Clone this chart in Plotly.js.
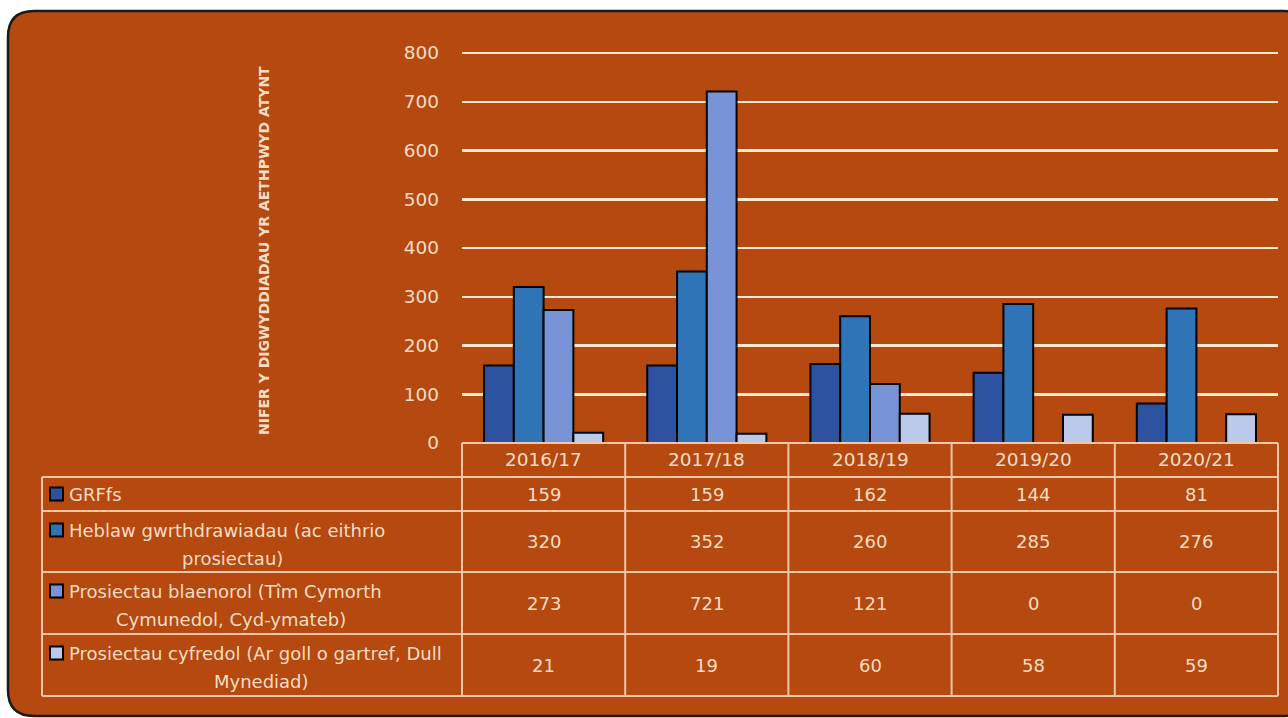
<!DOCTYPE html>
<html>
<head>
<meta charset="utf-8">
<script src="https://cdn.plot.ly/plotly-3.0.1.min.js"></script>
<style>
html,body{margin:0;padding:0;background:#ffffff;}
#chart{width:1288px;height:718px;}
</style>
</head>
<body>
<div id="chart"></div>
<script>
const categories = ['2016/17', '2017/18', '2018/19', '2019/20', '2020/21'];
const seriesNames = [
  'GRFfs',
  'Heblaw gwrthdrawiadau (ac eithrio prosiectau)',
  'Prosiectau blaenorol (Tîm Cymorth Cymunedol, Cyd-ymateb)',
  'Prosiectau cyfredol (Ar goll o gartref, Dull Mynediad)'
];
const grffs = [159, 159, 162, 144, 81];
const heblaw = [320, 352, 260, 285, 276];
const blaenorol = [273, 721, 121, 0, 0];
const cyfredol = [21, 19, 60, 58, 59];
const yTickVals = [0, 100, 200, 300, 400, 500, 600, 700, 800];
const yTitle = 'NIFER Y DIGWYDDIADAU YR AETHPWYD ATYNT';
const rowLabelLines = [
  ['GRFfs'],
  ['Heblaw gwrthdrawiadau (ac eithrio', 'prosiectau)'],
  ['Prosiectau blaenorol (Tîm Cymorth', 'Cymunedol, Cyd-ymateb)'],
  ['Prosiectau cyfredol (Ar goll o gartref, Dull', 'Mynediad)']
];

const seriesValues = [grffs, heblaw, blaenorol, cyfredol];
const seriesColors = ['#2C52A0', '#2E74B6', '#7894D6', '#BAC8EA'];

// plot area geometry (pixels): 0 at y=443, 800 at y=53
const L = 462, T = 50, W = 816, H = 393;
const Y_MAX = 800 * H / 390;
const fx = p => (p - L) / W;
const fy = p => (T + H - p) / H;

const BG = '#B5490F';
const TXT = '#F8DDC4';
const LINE = '#F2C6A6';
const FONT = '"DejaVu Sans", Verdana, sans-serif';

const traces = seriesValues.map((vals, i) => ({
  type: 'bar',
  name: seriesNames[i],
  x: categories,
  y: vals,
  marker: {color: seriesColors[i], line: {color: '#000000', width: 2}},
  hoverinfo: 'x+y+name'
}));

const shapes = [];
const annotations = [];

// rounded background panel
(function(){
  const x0 = 8, y0 = 11, x1 = 1310, y1 = 716, r = 26;
  const P = (x, y) => fx(x) + ',' + fy(y);
  const path = 'M' + P(x0 + r, y0) + ' L' + P(x1 - r, y0) + ' Q' + P(x1, y0) + ' ' + P(x1, y0 + r) +
    ' L' + P(x1, y1 - r) + ' Q' + P(x1, y1) + ' ' + P(x1 - r, y1) +
    ' L' + P(x0 + r, y1) + ' Q' + P(x0, y1) + ' ' + P(x0, y1 - r) +
    ' L' + P(x0, y0 + r) + ' Q' + P(x0, y0) + ' ' + P(x0 + r, y0) + ' Z';
  shapes.push({type: 'path', xref: 'paper', yref: 'paper', path: path, fillcolor: BG,
    line: {color: '#1a1a1a', width: 2.5}, layer: 'below'});
})();

// table geometry
const tableLeft = 42;
const headerTop = 443, headerBottom = 477;
const rowBounds = [477, 511, 572, 634, 696];
const n = categories.length;

// horizontal lines
shapes.push({type: 'line', xref: 'paper', yref: 'paper', x0: 0, x1: 1, y0: fy(headerTop), y1: fy(headerTop), line: {color: LINE, width: 2}});
rowBounds.forEach(yb => {
  shapes.push({type: 'line', xref: 'paper', yref: 'paper', x0: fx(tableLeft), x1: 1, y0: fy(yb), y1: fy(yb), line: {color: LINE, width: 2}});
});
// vertical lines
for (let i = 0; i <= n; i++) {
  shapes.push({type: 'line', xref: 'paper', yref: 'paper', x0: i / n, x1: i / n, y0: fy(headerTop), y1: fy(rowBounds[rowBounds.length - 1]), line: {color: LINE, width: 2}});
}
shapes.push({type: 'line', xref: 'paper', yref: 'paper', x0: fx(tableLeft), x1: fx(tableLeft), y0: fy(rowBounds[0]), y1: fy(rowBounds[rowBounds.length - 1]), line: {color: LINE, width: 2}});

// header labels
categories.forEach(c => {
  annotations.push({xref: 'x', yref: 'paper', x: c, y: fy((headerTop + headerBottom) / 2), text: c, showarrow: false,
    font: {family: FONT, size: 18.5, color: TXT}, xanchor: 'center', yanchor: 'middle'});
});

// value cells
seriesValues.forEach((vals, r) => {
  const yc = (rowBounds[r] + rowBounds[r + 1]) / 2;
  vals.forEach((v, i) => {
    annotations.push({xref: 'x', yref: 'paper', x: categories[i], y: fy(yc), text: String(v), showarrow: false,
      font: {family: FONT, size: 18, color: TXT}, xanchor: 'center', yanchor: 'middle'});
  });
});

// row labels with legend keys
const secondLineCenters = [null, 232, 231, 261];
rowLabelLines.forEach((lines, r) => {
  const top = rowBounds[r], bot = rowBounds[r + 1];
  let y1, y2;
  if (lines.length === 1) { y1 = (top + bot) / 2; }
  else { y1 = top + 19; y2 = top + 47; }
  shapes.push({type: 'rect', xref: 'paper', yref: 'paper', x0: fx(50), x1: fx(63), y0: fy(y1 - 6.5), y1: fy(y1 + 6.5),
    fillcolor: seriesColors[r], line: {color: '#000000', width: 2}});
  annotations.push({xref: 'paper', yref: 'paper', x: fx(67), y: fy(y1), text: lines[0], showarrow: false,
    font: {family: FONT, size: 18, color: TXT}, xanchor: 'left', yanchor: 'middle'});
  if (lines.length > 1) {
    annotations.push({xref: 'paper', yref: 'paper', x: fx(secondLineCenters[r]), y: fy(y2), text: lines[1], showarrow: false,
      font: {family: FONT, size: 18, color: TXT}, xanchor: 'center', yanchor: 'middle'});
  }
});

// y axis title
annotations.push({xref: 'paper', yref: 'paper', x: fx(264), y: fy(251), text: '<b>' + yTitle + '</b>', textangle: -90,
  showarrow: false, font: {family: FONT, size: 14, color: TXT}, xanchor: 'center', yanchor: 'middle'});

const layout = {
  width: 1288, height: 718,
  margin: {l: L, r: 1288 - L - W, t: T, b: 718 - T - H, pad: 0},
  paper_bgcolor: '#ffffff',
  plot_bgcolor: 'rgba(0,0,0,0)',
  showlegend: false,
  barmode: 'group',
  bargap: 0.27,
  bargroupgap: 0,
  xaxis: {type: 'category', showticklabels: false, showgrid: false, zeroline: false, showline: false, ticks: '', fixedrange: true},
  yaxis: {range: [0, Y_MAX], tickvals: yTickVals, showgrid: true, gridcolor: '#FDE7CF', gridwidth: 2.5, zeroline: false,
    showline: false, ticks: '', ticklabelstandoff: 22,
    tickfont: {family: FONT, size: 18.5, color: TXT}, fixedrange: true},
  shapes: shapes,
  annotations: annotations
};

Plotly.newPlot('chart', traces, layout, {displayModeBar: false, staticPlot: true});
</script>
</body>
</html>
